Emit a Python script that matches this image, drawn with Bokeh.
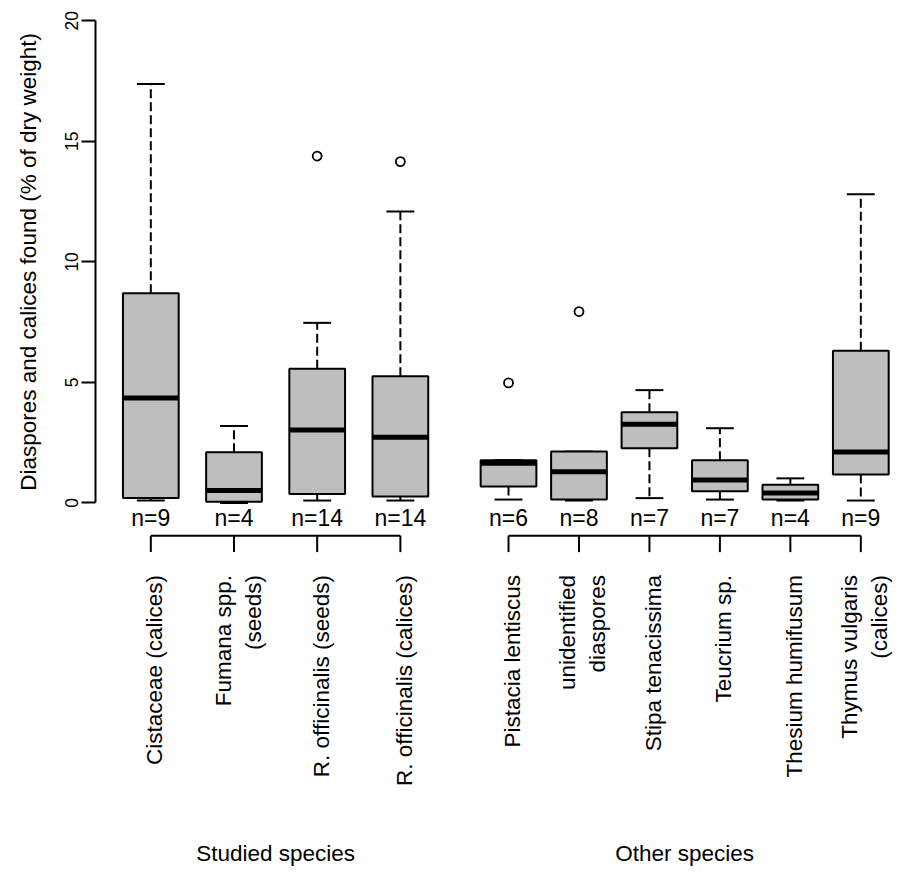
import math
from bokeh.plotting import figure
from bokeh.models import Range1d, LinearAxis, FixedTicker
from bokeh.embed import file_html
from bokeh.resources import INLINE
from bokeh.core.properties import value

# ---------------- data ----------------
species = ["Cistaceae (calices)", "Fumana spp.\n(seeds)", "R. officinalis (seeds)",
           "R. officinalis (calices)", "Pistacia lentiscus", "unidentified\ndiaspores",
           "Stipa tenacissima", "Teucrium sp.", "Thesium humifusum",
           "Thymus vulgaris\n(calices)"]
groups = ["Studied species", "Other species"]
group_sizes = [4, 6]
n_obs = [9, 4, 14, 14, 6, 8, 7, 7, 4, 9]
whisk_lo = [0.10, 0.00, 0.10, 0.10, 0.14, 0.10, 0.20, 0.14, 0.10, 0.10]
q1 = [0.20, 0.05, 0.37, 0.27, 0.68, 0.14, 2.27, 0.48, 0.14, 1.18]
median = [4.35, 0.52, 3.03, 2.72, 1.65, 1.29, 3.26, 0.95, 0.41, 2.11]
q3 = [8.70, 2.10, 5.57, 5.26, 1.77, 2.13, 3.76, 1.77, 0.75, 6.31]
whisk_hi = [17.38, 3.19, 7.47, 12.09, 1.77, 2.13, 4.68, 3.10, 1.02, 12.81]
outliers = [[], [], [14.39], [14.16], [4.98], [7.94], [], [], [], []]
y_ticks = [0, 5, 10, 15, 20]
y_title = "Diaspores and calices found (% of dry weight)"

# ---------------- layout ----------------
FONT = value("Liberation Sans")
FS = "22.5px"
BOX_W = 0.67
CAP_W = BOX_W * 0.5
RIGHT_START = 5.30
RIGHT_STEP = 0.847
xpos = [1.0 + i for i in range(group_sizes[0])] + \
       [RIGHT_START + RIGHT_STEP * i for i in range(group_sizes[1])]

p = figure(width=898, height=869,
           x_range=Range1d(-0.807, 9.988), y_range=Range1d(-15.206, 20.843),
           output_backend="svg", toolbar_location=None,
           x_axis_type=None, y_axis_type=None, min_border=0)
p.outline_line_color = None
p.background_fill_color = "white"

yaxis = LinearAxis(ticker=FixedTicker(ticks=y_ticks), bounds=(0, 20), fixed_location=0.3386)
yaxis.axis_line_width = 2
yaxis.axis_line_color = "black"
yaxis.major_tick_line_width = 2
yaxis.major_tick_line_color = "black"
yaxis.major_tick_in = 0
yaxis.major_tick_out = 14
yaxis.minor_tick_line_color = None
yaxis.major_label_orientation = "vertical"
yaxis.major_label_standoff = 4
yaxis.major_label_text_font = "Liberation Sans"
yaxis.major_label_text_font_size = "17.5px"
yaxis.major_label_text_color = "black"
p.add_layout(yaxis, "left")

# whiskers
p.segment(x0=xpos, y0=q3, x1=xpos, y1=whisk_hi, line_color="black", line_width=2, line_dash="9 4")
p.segment(x0=xpos, y0=q1, x1=xpos, y1=whisk_lo, line_color="black", line_width=2, line_dash="9 4")
# caps
p.segment(x0=[x - CAP_W / 2 for x in xpos], y0=whisk_hi, x1=[x + CAP_W / 2 for x in xpos], y1=whisk_hi,
          line_color="black", line_width=2)
p.segment(x0=[x - CAP_W / 2 for x in xpos], y0=whisk_lo, x1=[x + CAP_W / 2 for x in xpos], y1=whisk_lo,
          line_color="black", line_width=2)
# boxes
p.vbar(x=xpos, width=BOX_W, bottom=q1, top=q3, fill_color="#BEBEBE",
       line_color="black", line_width=2)
# medians
p.segment(x0=[x - BOX_W / 2 for x in xpos], y0=median, x1=[x + BOX_W / 2 for x in xpos], y1=median,
          line_color="black", line_width=5, line_cap="butt")
# outliers
ox, oy = [], []
for x, outs in zip(xpos, outliers):
    for o in outs:
        ox.append(x)
        oy.append(o)
p.scatter(ox, oy, marker="circle", size=9, fill_color=None, line_color="black", line_width=1.8)

# n labels
p.text(x=xpos, y=[-0.61] * len(xpos), text=["n=%d" % n for n in n_obs],
       text_align="center", text_baseline="middle", text_font=FONT,
       text_font_size="23px", text_color="black")

# group brackets
start = 0
for g, size in zip(groups, group_sizes):
    gx = xpos[start:start + size]
    p.segment(x0=[gx[0]], y0=[-1.36], x1=[gx[-1]], y1=[-1.36], line_color="black", line_width=2)
    p.segment(x0=gx, y0=[-1.36] * size, x1=gx, y1=[-2.04] * size, line_color="black", line_width=2)
    p.text(x=[sum(gx) / size], y=[-14.03], text=[g], text_align="center", text_baseline="top",
           text_font=FONT, text_font_size=FS, text_color="black")
    start += size

# category labels
p.text(x=xpos, y=[-2.99] * len(xpos), text=species, angle=math.pi / 2,
       text_align="right", text_baseline="middle", x_offset=4,
       text_font=FONT, text_font_size=FS, text_color="black")

# y title
p.text(x=[-0.4763], y=[10.0], text=[y_title], angle=math.pi / 2,
       text_align="center", text_baseline="middle", text_font=FONT,
       text_font_size=FS, text_color="black")

open("out.html", "w").write(file_html(p, INLINE))
